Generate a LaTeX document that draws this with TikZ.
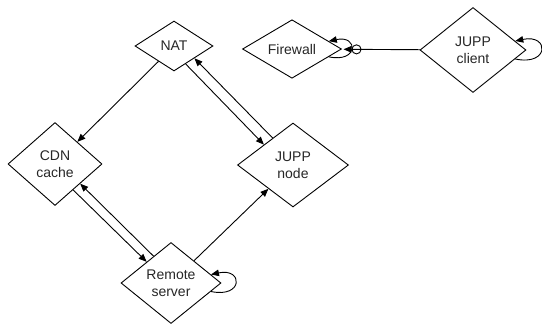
\documentclass[tikz,border=0pt]{standalone}
\usepackage{fontspec}
\setmainfont{Liberation Sans}
\usepackage{tikz}
\usetikzlibrary{shapes.geometric}
\usetikzlibrary{arrows.meta}

\begin{document}
\begin{tikzpicture}[x=1pt,y=-1pt,line width=0.9pt,
  box/.style={draw,diamond,inner sep=0pt,align=center,text=black!85,
              font=\fontsize{14}{17}\selectfont},
  link/.style={-{Triangle[length=8pt,width=6.5pt]}},
  selfloop/.style={link,loop,out=-12,in=12,looseness=5,min distance=0pt}]
 \useasboundingbox (0,0) rectangle (542,325);
 \node[box,minimum width=78pt,minimum height=50pt]  (nat) at (174,46)  {NAT};
 \node[box,minimum width=99pt,minimum height=52pt]  (fw)  at (292,49)  {Firewall};
 \node[box,minimum width=106pt,minimum height=85pt] (jc)  at (473,50)  {JUPP\\client};
 \node[box,minimum width=94pt,minimum height=83pt]  (cdn) at (55,164)  {CDN\\cache};
 \node[box,minimum width=111pt,minimum height=84pt] (jn)  at (293,165) {JUPP\\node};
 \node[box,minimum width=100pt,minimum height=81pt] (rs)  at (171,283) {Remote\\server};
 \draw[link] (nat) -- (cdn);
 \draw[link] (nat.-57) -- (jn.145);
 \draw[link] (jn.127) -- (nat.-31);
 \draw[link] (cdn.-55) -- (rs.139);
 \draw[link] (rs.123) -- (cdn.-38);
 \draw[link] (rs) -- (jn);
 \draw (rs) edge[selfloop] (rs)
       (fw) edge[selfloop] (fw)
       (jc) edge[selfloop] (jc);
 \draw[-{Circle[open,length=10pt,width=10pt]Triangle[length=8pt,width=6.5pt]},
       shorten >=2pt] (jc) -- (fw);
\end{tikzpicture}
\end{document}
